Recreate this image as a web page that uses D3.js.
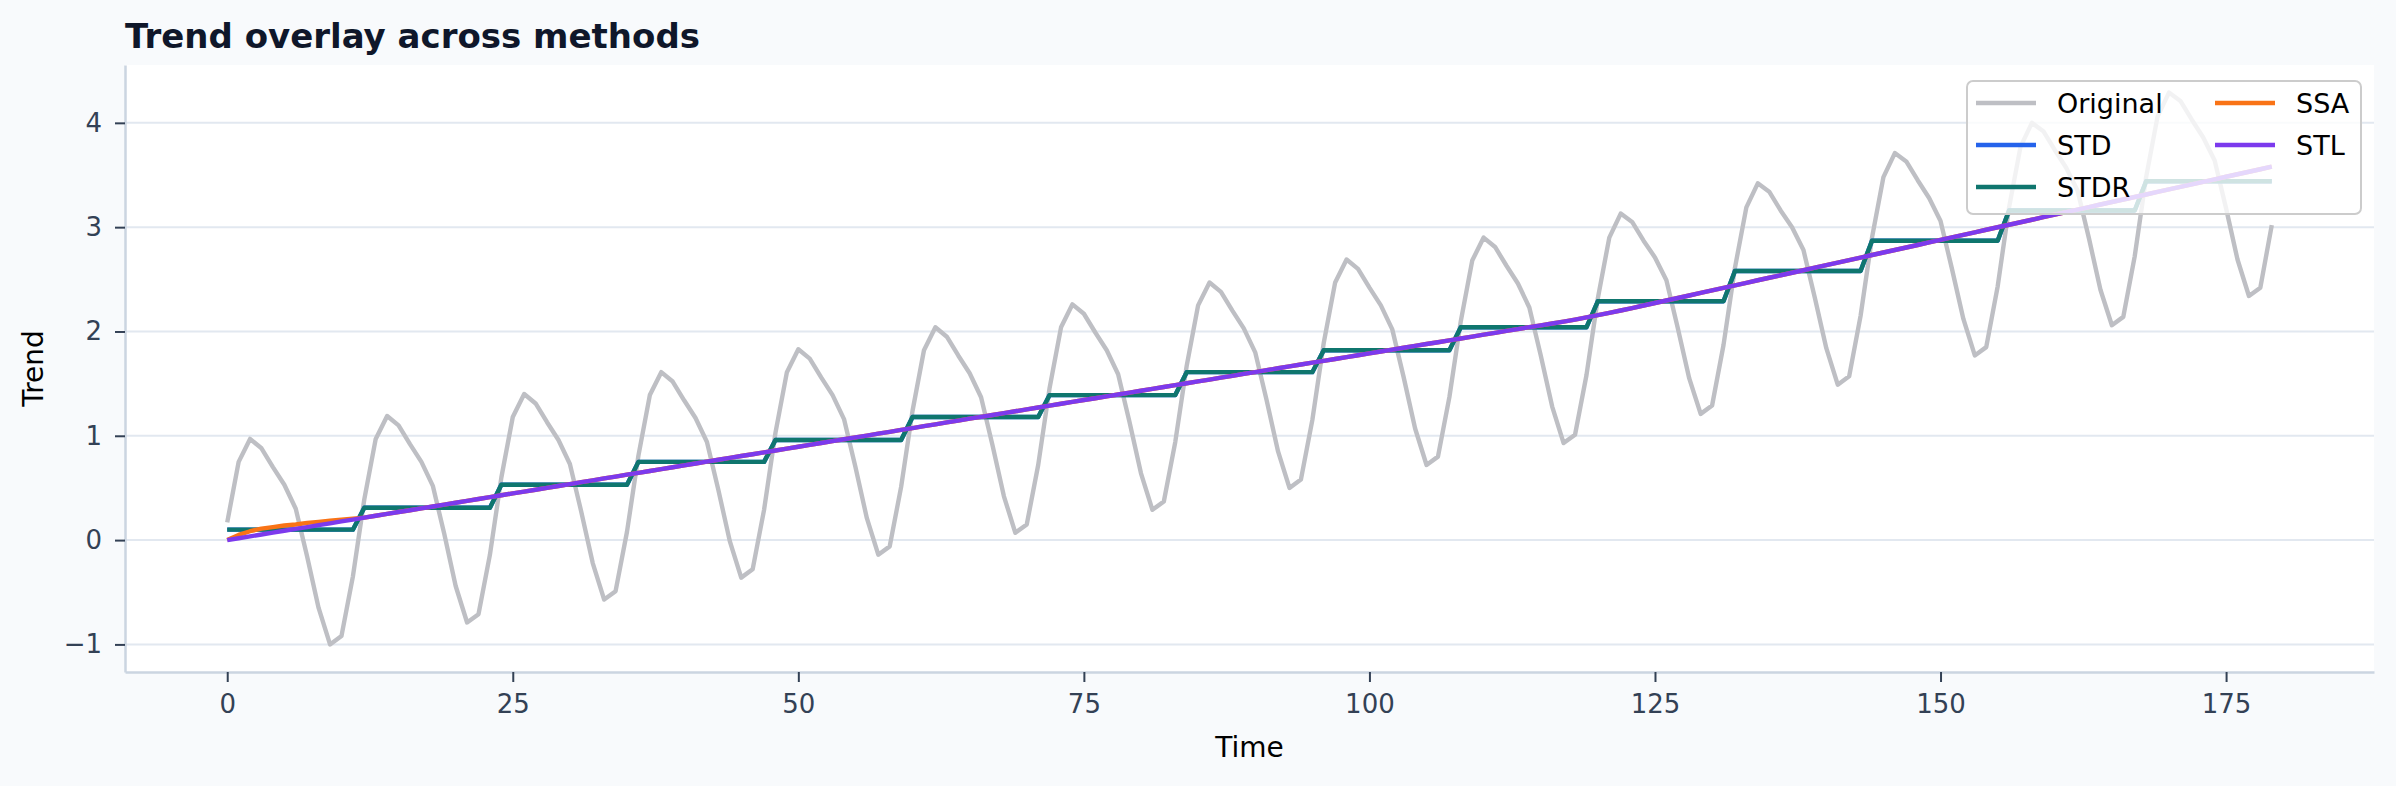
<!DOCTYPE html>
<html>
<head>
<meta charset="utf-8">
<script src="https://cdn.jsdelivr.net/npm/d3@7"></script>
<style>
  html, body { margin: 0; padding: 0; background: #f8fafc; }
  svg { display: block; }
</style>
</head>
<body>
<div id="chart"></div>
<script>
var width = 2396, height = 786;
var margin = {top: 65, right: 22, bottom: 114, left: 125};

// one value per time step, 0..179
var time = d3.range(180);

// original series (12 steps per row)
var original = [
  0.17, 0.75, 0.97, 0.88, 0.70, 0.53, 0.30, -0.16, -0.65, -1.00, -0.92, -0.35,
  0.39, 0.97, 1.19, 1.10, 0.92, 0.75, 0.52, 0.06, -0.44, -0.79, -0.71, -0.14,
  0.60, 1.18, 1.40, 1.31, 1.13, 0.96, 0.73, 0.27, -0.22, -0.57, -0.49, 0.08,
  0.81, 1.39, 1.61, 1.52, 1.34, 1.17, 0.94, 0.48, -0.01, -0.36, -0.28, 0.29,
  1.03, 1.61, 1.83, 1.74, 1.56, 1.39, 1.16, 0.70, 0.21, -0.14, -0.06, 0.51,
  1.24, 1.82, 2.04, 1.95, 1.77, 1.60, 1.37, 0.91, 0.42, 0.07, 0.15, 0.72,
  1.46, 2.04, 2.26, 2.17, 1.99, 1.82, 1.59, 1.13, 0.64, 0.29, 0.37, 0.94,
  1.67, 2.25, 2.47, 2.38, 2.20, 2.03, 1.80, 1.34, 0.85, 0.50, 0.58, 1.15,
  1.89, 2.47, 2.69, 2.60, 2.42, 2.25, 2.02, 1.56, 1.07, 0.72, 0.80, 1.37,
  2.10, 2.68, 2.90, 2.81, 2.63, 2.46, 2.23, 1.77, 1.28, 0.93, 1.01, 1.58,
  2.32, 2.90, 3.13, 3.05, 2.87, 2.71, 2.49, 2.03, 1.55, 1.21, 1.29, 1.87,
  2.61, 3.19, 3.42, 3.34, 3.16, 3.00, 2.78, 2.32, 1.84, 1.49, 1.57, 2.15,
  2.90, 3.48, 3.71, 3.63, 3.45, 3.28, 3.06, 2.60, 2.12, 1.77, 1.85, 2.43,
  3.19, 3.77, 4.00, 3.92, 3.74, 3.57, 3.35, 2.89, 2.40, 2.06, 2.14, 2.72,
  3.48, 4.06, 4.29, 4.21, 4.03, 3.86, 3.64, 3.18, 2.69, 2.34, 2.42, 3.02
];

// STL trend (a bit steeper after ~t=120)
var stl = [
  0.000, 0.018, 0.036, 0.054, 0.072, 0.090, 0.107, 0.125, 0.143, 0.161, 0.179, 0.197,
  0.215, 0.233, 0.251, 0.269, 0.286, 0.304, 0.322, 0.340, 0.358, 0.376, 0.394, 0.412,
  0.430, 0.448, 0.465, 0.483, 0.501, 0.519, 0.537, 0.555, 0.573, 0.591, 0.609, 0.627,
  0.644, 0.662, 0.680, 0.698, 0.716, 0.734, 0.752, 0.770, 0.788, 0.806, 0.823, 0.841,
  0.859, 0.877, 0.895, 0.913, 0.931, 0.949, 0.967, 0.985, 1.002, 1.020, 1.038, 1.056,
  1.074, 1.092, 1.110, 1.128, 1.146, 1.164, 1.181, 1.199, 1.217, 1.235, 1.253, 1.271,
  1.289, 1.307, 1.325, 1.343, 1.360, 1.378, 1.396, 1.414, 1.432, 1.450, 1.468, 1.486,
  1.504, 1.522, 1.539, 1.557, 1.575, 1.593, 1.611, 1.629, 1.647, 1.665, 1.683, 1.701,
  1.718, 1.736, 1.754, 1.772, 1.790, 1.808, 1.826, 1.844, 1.862, 1.880, 1.897, 1.915,
  1.933, 1.951, 1.969, 1.987, 2.005, 2.023, 2.041, 2.059, 2.076, 2.095, 2.114, 2.135,
  2.156, 2.178, 2.201, 2.224, 2.249, 2.273, 2.297, 2.321, 2.345, 2.370, 2.394, 2.418,
  2.442, 2.466, 2.491, 2.515, 2.539, 2.563, 2.587, 2.612, 2.636, 2.660, 2.684, 2.708,
  2.733, 2.757, 2.781, 2.805, 2.829, 2.854, 2.878, 2.902, 2.926, 2.950, 2.975, 2.999,
  3.023, 3.047, 3.071, 3.096, 3.120, 3.144, 3.168, 3.192, 3.217, 3.241, 3.265, 3.289,
  3.313, 3.338, 3.362, 3.386, 3.410, 3.434, 3.459, 3.483, 3.507, 3.531, 3.555, 3.580
];

// SSA only departs from STL during the first year, after that it sits under it
var ssaHead = [0.000, 0.050, 0.085, 0.110, 0.125, 0.140, 0.150, 0.165, 0.175, 0.185, 0.195, 0.205];
var ssa = ssaHead.concat(stl.slice(12));

// STDR is flat over each 12-step block; STD is hidden exactly under it
var stdrLevels = [0.10, 0.31, 0.53, 0.75, 0.96, 1.18, 1.39, 1.61, 1.82, 2.04, 2.29, 2.58, 2.87, 3.16, 3.44];
var stdr = time.map(t => stdrLevels[Math.floor(t / 12)]);
var std = stdr.slice();

var xTicks = [0, 25, 50, 75, 100, 125, 150, 175];
var yTicks = [-1, 0, 1, 2, 3, 4];

var series = [
  {name: "Original", values: original, color: "#bebfc4"},
  {name: "STD", values: std, color: "#2563eb"},
  {name: "STDR", values: stdr, color: "#0f766e"},
  {name: "SSA", values: ssa, color: "#f97316"},
  {name: "STL", values: stl, color: "#7c3aed"}
];

var font = "DejaVu Sans, sans-serif";

var svg = d3.select("#chart").append("svg")
    .attr("width", width)
    .attr("height", height);

svg.append("rect")
    .attr("width", width)
    .attr("height", height)
    .attr("fill", "#f8fafc");

// matplotlib-like 5% padding around the data
var xPad = 179 * 0.05;
var yLo = d3.min(series, s => d3.min(s.values)),
    yHi = d3.max(series, s => d3.max(s.values)),
    yPad = (yHi - yLo) * 0.05;

var x = d3.scaleLinear()
    .domain([0 - xPad, 179 + xPad])
    .range([margin.left, width - margin.right]);

var y = d3.scaleLinear()
    .domain([yLo - yPad, yHi + yPad])
    .range([height - margin.bottom, margin.top]);

svg.append("rect")
    .attr("x", margin.left)
    .attr("y", margin.top)
    .attr("width", width - margin.left - margin.right)
    .attr("height", height - margin.top - margin.bottom)
    .attr("fill", "#ffffff");

// horizontal grid
svg.append("g")
  .selectAll("line")
  .data(yTicks)
  .join("line")
    .attr("x1", margin.left)
    .attr("x2", width - margin.right)
    .attr("y1", d => y(d))
    .attr("y2", d => y(d))
    .attr("stroke", "#e2e8f0")
    .attr("stroke-width", 2);

var line = d3.line()
    .x((d, i) => x(time[i]))
    .y(d => y(d));

svg.append("g")
  .selectAll("path")
  .data(series)
  .join("path")
    .attr("d", d => line(d.values))
    .attr("fill", "none")
    .attr("stroke", d => d.color)
    .attr("stroke-width", 4.4)
    .attr("stroke-linejoin", "round");

// axes
var xAxis = svg.append("g")
    .attr("transform", `translate(0,${height - margin.bottom})`)
    .call(d3.axisBottom(x).tickValues(xTicks).tickSize(10).tickSizeOuter(0).tickPadding(13));

var yAxis = svg.append("g")
    .attr("transform", `translate(${margin.left},0)`)
    .call(d3.axisLeft(y).tickValues(yTicks).tickFormat(d3.format("d")).tickSize(10).tickSizeOuter(0).tickPadding(13));

[xAxis, yAxis].forEach(g => {
  g.select(".domain").attr("stroke", "#cbd5e1").attr("stroke-width", 2.5);
  g.selectAll(".tick line").attr("stroke", "#334155").attr("stroke-width", 2);
  g.selectAll(".tick text")
    .attr("fill", "#334155")
    .style("font-family", font)
    .style("font-size", "26px");
});

// labels and title
svg.append("text")
    .attr("x", (margin.left + width - margin.right) / 2)
    .attr("y", 757)
    .attr("text-anchor", "middle")
    .style("font-family", font)
    .style("font-size", "28px")
    .attr("fill", "#000")
    .text("Time");

svg.append("text")
    .attr("transform", `translate(43,${(margin.top + height - margin.bottom) / 2}) rotate(-90)`)
    .attr("text-anchor", "middle")
    .style("font-family", font)
    .style("font-size", "28px")
    .attr("fill", "#000")
    .text("Trend");

svg.append("text")
    .attr("x", margin.left)
    .attr("y", 48)
    .style("font-family", font)
    .style("font-size", "34px")
    .style("font-weight", "bold")
    .attr("fill", "#0f172a")
    .text("Trend overlay across methods");

// legend, two columns filled top to bottom
var legend = svg.append("g");

legend.append("rect")
    .attr("x", 1967)
    .attr("y", 81)
    .attr("width", 394)
    .attr("height", 133)
    .attr("rx", 6)
    .attr("fill", "#ffffff")
    .attr("fill-opacity", 0.8)
    .attr("stroke", "#cccccc")
    .attr("stroke-width", 2);

var item = legend.selectAll("g.item")
  .data(series)
  .join("g")
    .attr("class", "item")
    .attr("transform", (d, i) => `translate(${i < 3 ? 1976 : 2215},${103 + (i % 3) * 42})`);

item.append("line")
    .attr("x1", 0)
    .attr("x2", 60)
    .attr("stroke", d => d.color)
    .attr("stroke-width", 4.4);

item.append("text")
    .attr("x", 81)
    .attr("y", 10)
    .style("font-family", font)
    .style("font-size", "27px")
    .attr("fill", "#000")
    .text(d => d.name);
</script>
</body>
</html>
